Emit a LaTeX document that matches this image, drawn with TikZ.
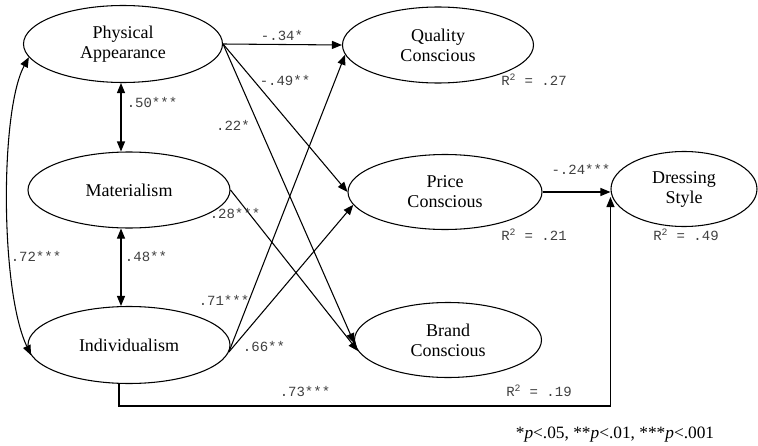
\documentclass[tikz,border=0pt]{standalone}
\usepackage{fontspec}
\setmainfont{Liberation Serif}
\newfontfamily\coeffont{Liberation Mono}
\usetikzlibrary{shapes.geometric,arrows.meta}

\tikzset{
  latent/.style 2 args={ellipse, draw, line width=0.8pt,
    minimum width=#1*0.75pt, minimum height=#2*0.75pt,
    inner sep=0pt, align=center, font=\fontsize{13.5}{15}\selectfont},
  effect/.style={line width=0.8pt, -{Triangle[length=7.5pt,width=6pt]}},
  corr/.style={line width=0.8pt, {Triangle[length=7.5pt,width=6pt]}-{Triangle[length=7.5pt,width=6pt]}},
  coef/.style={inner sep=0pt, text=black!75, font=\coeffont\fontsize{10.5}{12}\selectfont},
  note/.style={inner sep=0pt, font=\fontsize{13}{15}\selectfont}
}

\begin{document}
\begin{tikzpicture}[x=0.75pt,y=-0.75pt]
    \useasboundingbox (0,0) rectangle (758,446);
    % latent variables
    \node[latent={199}{77}] (pa) at (123,44) {Physical\\Appearance};
    \node[latent={202}{76}] (mat) at (129,190) {Materialism};
    \node[latent={202}{77}] (ind) at (129,345) {Individualism};
    \node[latent={191}{76}] (qc) at (438,45) {Quality\\Conscious};
    \node[latent={194}{75}] (pc) at (445,192) {Price\\Conscious};
    \node[latent={187}{75}] (bc) at (448,340) {Brand\\Conscious};
    \node[latent={146}{75}] (ds) at (684,189) {Dressing\\Style};
    % correlations
    \coordinate (vx) at (121,0);
    \draw[corr] (pa.south -| vx) -- (mat.north -| vx);
    \draw[corr] (mat.south -| vx) -- (ind.north -| vx);
    \draw[corr] (pa.188) .. controls (0,110) and (0,290) .. (ind.186);
    % paths
    \draw[effect] (pa.east) -- (qc.west);
    \draw[effect] (pa.east) -- (pc.west);
    \draw[effect] (pa.east) -- (bc.182);
    \draw[effect] (mat.east) -- (bc.187);
    \draw[effect] (ind.-4) -- (qc.186);
    \draw[effect] (ind.-4) -- (pc.188);
    \draw[effect] (pc.east) -- (pc.east -| ds.west);
    \coordinate (low) at (119,406);
    \draw[effect] (ind.south -| low) |- (low -| ds.west) -- ([yshift=-6pt]ds.west);
    % coefficients
    \foreach \lname/\lx/\ly/\ltext in {
        c1/282/35/{-.34*}, c2/285/80/{-.49**}, c3/233/125/{.22*},
        c4/235/213/{.28***}, c5/152/102/{.50***}, c6/146/256/{.48**},
        c7/36/256/{.72***}, c8/224/300/{.71***}, c9/264/346/{.66**},
        c10/305/391/{.73***}, c11/581/169/{-.24***}}
    \node[coef] (\lname) at (\lx,\ly) {\ltext};
    \foreach \rname/\rx/\ry/\rval in {r1/534/80/.27, r2/534/235/.21, r3/686/235/.49, r4/539/391/.19}
    \node[coef] (\rname) at (\rx,\ry) {R\textsuperscript{2} = \rval};
    \node[note] (sig) at (615,435) {*\textit{p}<.05, **\textit{p}<.01, ***\textit{p}<.001};
\end{tikzpicture}
\end{document}
